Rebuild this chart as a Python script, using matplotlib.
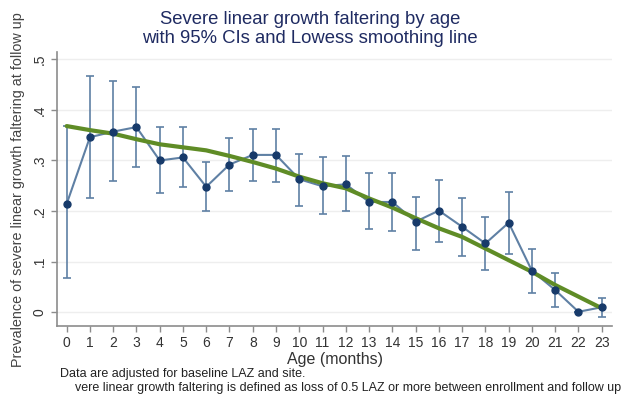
import numpy as np
import matplotlib.pyplot as plt

plt.rcParams['font.family'] = ['Liberation Sans', 'DejaVu Sans']

# age in months
age = list(range(24))

prevalence = [0.214, 0.346, 0.357, 0.366, 0.300, 0.306, 0.248, 0.292,
              0.311, 0.311, 0.263, 0.249, 0.253, 0.218, 0.218, 0.179,
              0.201, 0.169, 0.136, 0.177, 0.082, 0.044, 0.001, 0.010]
ci_upper = [0.368, 0.466, 0.457, 0.445, 0.366, 0.366, 0.297, 0.345,
            0.362, 0.362, 0.313, 0.307, 0.308, 0.276, 0.276, 0.228,
            0.261, 0.225, 0.189, 0.238, 0.125, 0.077, 0.001, 0.028]
ci_lower = [0.067, 0.225, 0.259, 0.288, 0.236, 0.247, 0.201, 0.239,
            0.259, 0.257, 0.211, 0.195, 0.200, 0.165, 0.161, 0.124,
            0.138, 0.111, 0.084, 0.115, 0.039, 0.010, 0.001, -0.009]
lowess = [0.368, 0.360, 0.353, 0.342, 0.332, 0.326, 0.320, 0.309,
          0.297, 0.284, 0.268, 0.255, 0.245, 0.225, 0.207, 0.186,
          0.166, 0.149, 0.126, 0.103, 0.080, 0.054, 0.031, 0.008]

yticks = [0, 0.1, 0.2, 0.3, 0.4, 0.5]
ytick_labels = ['0', '.1', '.2', '.3', '.4', '.5']

fig = plt.figure(figsize=(6.3, 3.96), dpi=100)
ax = fig.add_axes([0.091, 0.1775, 0.880, 0.692])

prev = np.array(prevalence)
err = [prev - np.array(ci_lower), np.array(ci_upper) - prev]

line_col = '#5f80a4'
dot_col = '#173a6a'
gray = '#8c8c8c'

ax.errorbar(age, prevalence, yerr=err, fmt='none', ecolor=line_col,
            elinewidth=1.2, capsize=3, capthick=1.2, zorder=2)
ax.plot(age, prevalence, color=line_col, lw=1.5, zorder=3)
ax.plot(age, lowess, color='#5f8c26', lw=3, zorder=4, solid_capstyle='round')
ax.plot(age, prevalence, 'o', color=dot_col, ms=5, zorder=5)

ax.set_xlim(-0.4, 23.43)
ax.set_ylim(-0.0265, 0.515)
ax.set_xticks(age)
ax.set_yticks(yticks)
ax.set_yticklabels(ytick_labels, rotation=90, va='center')

ax.grid(axis='y', color='#eeeeee', lw=1)
ax.set_axisbelow(True)
for s in ['top', 'right']:
    ax.spines[s].set_visible(False)
for s in ['left', 'bottom']:
    ax.spines[s].set_color(gray)
    ax.spines[s].set_linewidth(1.2)
ax.tick_params(colors=gray, length=4, width=1, labelcolor='#333333', labelsize=10)

ax.set_xlabel('Age (months)', fontsize=11.5, color='#333333', labelpad=1.5)
fig.text(0.028, 0.52, 'Prevalence of severe linear growth faltering at follow up',
         rotation=90, ha='center', va='center', fontsize=10.4, color='#444444')

title_col = '#1f2b62'
fig.text(0.492, 0.952, 'Severe linear growth faltering by age',
         ha='center', va='center', fontsize=13.3, color=title_col)
fig.text(0.492, 0.904, 'with 95% CIs and Lowess smoothing line',
         ha='center', va='center', fontsize=13.3, color=title_col)

fig.text(0.095, 0.0556, 'Data are adjusted for baseline LAZ and site.',
         fontsize=9, color='#222222', va='center')
fig.text(0.119, 0.020, 'vere linear growth faltering is defined as loss of 0.5 LAZ '
         'or more between enrollment and follow up',
         fontsize=9, color='#222222', va='center')

fig.savefig('out.png', dpi=100)
